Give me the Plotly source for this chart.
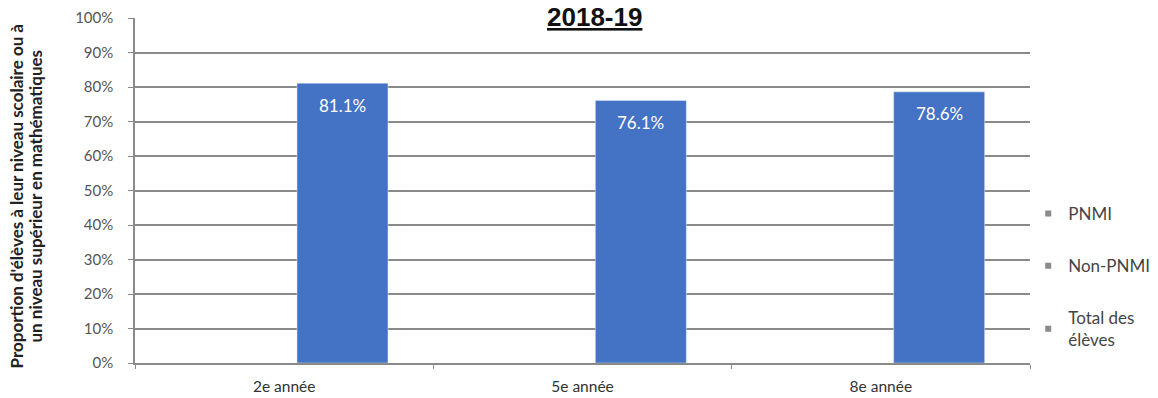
import plotly.graph_objects as go

categories = ["2e année", "5e année", "8e année"]
pnmi = [None, None, None]
non_pnmi = [None, None, None]
total = [0.811, 0.761, 0.786]
series_names = ["PNMI", "Non-PNMI", "Total des<br>élèves"]
y_ticks = [0, 0.1, 0.2, 0.3, 0.4, 0.5, 0.6, 0.7, 0.8, 0.9, 1.0]
y_tick_labels = ["0%", "10%", "20%", "30%", "40%", "50%", "60%", "70%", "80%", "90%", "100%"]
y_title_lines = ["Proportion d'élèves à leur niveau scolaire ou à",
                 "un niveau supérieur en mathématiques"]

BAR_COLOR = "#4472C4"
BAR_OFFSET = 0.043
BAR_WIDTH = 0.305
FONT = "Lato"
PLOT_W = 1158 - 135 - 128

fig = go.Figure()
fig.add_trace(go.Bar(x=categories, y=pnmi, name="PNMI", showlegend=False,
                     marker_color="#7f7f7f", offset=-0.4, width=0.25))
fig.add_trace(go.Bar(x=categories, y=non_pnmi, name="Non-PNMI", showlegend=False,
                     marker_color="#a5a5a5", offset=-0.17, width=0.25))
fig.add_trace(go.Bar(x=categories, y=total, name="Total des élèves", showlegend=False,
                     marker_color=BAR_COLOR, offset=BAR_OFFSET, width=BAR_WIDTH,
                     hovertemplate="%{x}: %{y:.1%}<extra></extra>"))

# legend proxies (small grey squares)
for i, nm in enumerate(series_names):
    fig.add_trace(go.Scatter(x=[None], y=[None], mode="markers", name=nm,
                             legendgroup=f"g{i}",
                             marker=dict(symbol="square", size=6, color="#8a8a8a")))

# value labels inside bar tops
for i, v in enumerate(total):
    fig.add_annotation(x=i + BAR_OFFSET + BAR_WIDTH / 2, y=v, xref="x", yref="y",
                       text=f"{v*100:.1f}%", showarrow=False, yshift=-22,
                       font=dict(family=FONT, size=17, color="white"))

# title
fig.add_annotation(x=0.5, y=1, xref="paper", yref="paper", xshift=12, yshift=18,
                   text="<b><u>2018-19</u></b>", showarrow=False, yanchor="top",
                   font=dict(family="Liberation Sans", size=26, color="#111"))

# y axis title (two lines, rotated)
for px, line in zip([16, 35], y_title_lines):
    fig.add_annotation(x=-(135 - px) / PLOT_W, y=0.5, xref="paper", yref="paper",
                       textangle=-90, xanchor="center", yanchor="middle",
                       yshift=-6, showarrow=False, text=f"<b>{line}</b>",
                       font=dict(family=FONT, size=17, color="#222"))

fig.update_layout(
    width=1158, height=398,
    margin=dict(l=135, r=128, t=18, b=35, autoexpand=False),
    paper_bgcolor="white", plot_bgcolor="white",
    barmode="overlay",
    font=dict(family=FONT, color="#333"),
    legend=dict(x=0.998, xanchor="left", y=0.484, yanchor="top",
                tracegroupgap=27, font=dict(size=17, color="#444"),
                bgcolor="rgba(0,0,0,0)"),
    showlegend=True,
)
fig.update_xaxes(type="category", range=[-0.5, 2.5], showgrid=False, automargin=False,
                 showline=True, linecolor="#8a8a8a", linewidth=1.5,
                 ticks="outside", tickson="boundaries", ticklen=4, tickcolor="#8a8a8a",
                 ticklabelstandoff=9, tickfont=dict(size=15.5, color="#333"))
fig.update_yaxes(range=[0, 1.0], tickvals=y_ticks, ticktext=y_tick_labels, automargin=False,
                 showgrid=True, gridcolor="#8a8a8a", gridwidth=1.5,
                 showline=True, linecolor="#8a8a8a", linewidth=1.5,
                 ticks="outside", ticklen=5, tickcolor="#8a8a8a",
                 ticklabelstandoff=12, tickfont=dict(size=15, color="#555"),
                 zeroline=False)

fig.write_html("out.html")
